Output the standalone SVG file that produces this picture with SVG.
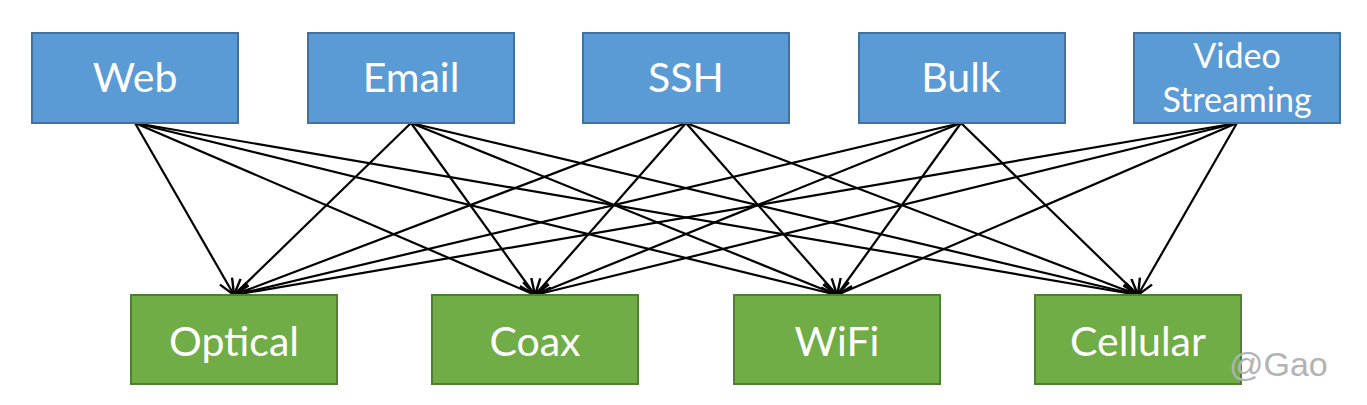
<svg xmlns="http://www.w3.org/2000/svg" width="1367" height="405" viewBox="0 0 1367 405">
<style>
.top rect{fill:#5B9BD5;stroke:#41719C;stroke-width:2}
.bot rect{fill:#70AD47;stroke:#507E32;stroke-width:2}
.lbl{font-family:Lato,"Open Sans",sans-serif;fill:#fff;text-anchor:middle}
#edges line{stroke:#000;stroke-width:2.2;marker-end:url(#arr)}
</style>
<defs>
<marker id="arr" markerWidth="20" markerHeight="18" refX="17" refY="8" orient="auto" markerUnits="userSpaceOnUse">
<path d="M1,1 L17,8 L1,15" fill="none" stroke="#000" stroke-width="2.4"/>
</marker>
</defs>
<rect width="1367" height="405" fill="#fff"/>
<g id="edges">
<line x1="135" y1="123" x2="234" y2="295"/><line x1="135" y1="123" x2="535" y2="295"/><line x1="135" y1="123" x2="837" y2="295"/><line x1="135" y1="123" x2="1138" y2="295"/>
<line x1="411" y1="123" x2="234" y2="295"/><line x1="411" y1="123" x2="535" y2="295"/><line x1="411" y1="123" x2="837" y2="295"/><line x1="411" y1="123" x2="1138" y2="295"/>
<line x1="686" y1="123" x2="234" y2="295"/><line x1="686" y1="123" x2="535" y2="295"/><line x1="686" y1="123" x2="837" y2="295"/><line x1="686" y1="123" x2="1138" y2="295"/>
<line x1="961" y1="123" x2="234" y2="295"/><line x1="961" y1="123" x2="535" y2="295"/><line x1="961" y1="123" x2="837" y2="295"/><line x1="961" y1="123" x2="1138" y2="295"/>
<line x1="1237" y1="123" x2="234" y2="295"/><line x1="1237" y1="123" x2="535" y2="295"/><line x1="1237" y1="123" x2="837" y2="295"/><line x1="1237" y1="123" x2="1138" y2="295"/>
</g>
<g id="web" class="top"><rect x="32" y="33" width="206" height="90"/><text class="lbl" x="135" y="92" font-size="41">Web</text></g>
<g id="email" class="top"><rect x="308" y="33" width="206" height="90"/><text class="lbl" x="411" y="92" font-size="41">Email</text></g>
<g id="ssh" class="top"><rect x="583" y="33" width="206" height="90"/><text class="lbl" x="686" y="92" font-size="41">SSH</text></g>
<g id="bulk" class="top"><rect x="859" y="33" width="206" height="90"/><text class="lbl" x="961" y="92" font-size="41">Bulk</text></g>
<g id="video" class="top"><rect x="1134" y="33" width="206" height="90"/><text class="lbl" x="1237" y="68" font-size="34">Video</text><text class="lbl" x="1237" y="112" font-size="34">Streaming</text></g>
<g id="optical" class="bot"><rect x="131" y="295" width="206" height="89"/><text class="lbl" x="234" y="356" font-size="41">Optical</text></g>
<g id="coax" class="bot"><rect x="432" y="295" width="206" height="89"/><text class="lbl" x="535" y="356" font-size="41">Coax</text></g>
<g id="wifi" class="bot"><rect x="734" y="295" width="206" height="89"/><text class="lbl" x="837" y="356" font-size="41">WiFi</text></g>
<g id="cellular" class="bot"><rect x="1035" y="295" width="206" height="89"/><text class="lbl" x="1138" y="356" font-size="41">Cellular</text></g>
<text x="1229" y="376" font-family="Liberation Sans,Arial,sans-serif" font-size="34" fill="#B3B3B3">@Gao</text>
</svg>
